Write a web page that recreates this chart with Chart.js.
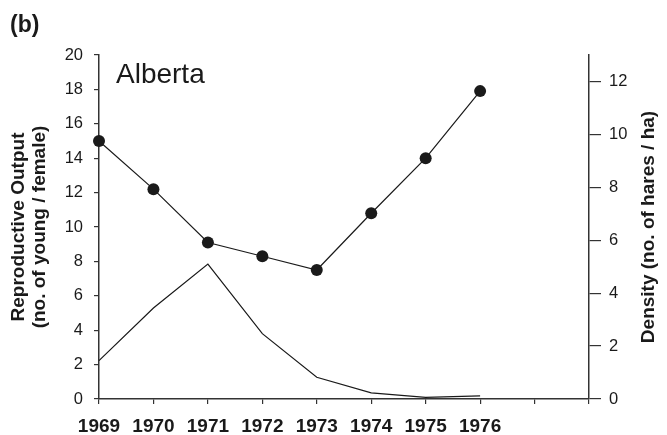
<!DOCTYPE html>
<html>
<head>
<meta charset="utf-8">
<script src="https://cdn.jsdelivr.net/npm/chart.js@4/dist/chart.umd.min.js"></script>
<style>
  html, body { margin: 0; padding: 0; background: #ffffff; }
  #wrap { width: 667px; height: 435px; position: relative; }
</style>
</head>
<body>
<div id="wrap"><canvas id="c" width="667" height="435"></canvas></div>
<script>
// ---- data ----
const years = ['1969', '1970', '1971', '1972', '1973', '1974', '1975', '1976', '', ''];
const reproductiveOutput = [15.0, 12.2, 9.1, 8.3, 7.5, 10.8, 14.0, 17.9, null, null];
const hareDensity = [1.45, 3.44, 5.10, 2.47, 0.82, 0.23, 0.06, 0.12, null, null];
const leftTicks = [0, 2, 4, 6, 8, 10, 12, 14, 16, 18, 20];
const rightTicks = [0, 2, 4, 6, 8, 10, 12];
const panelLabel = '(b)';
const regionLabel = 'Alberta';
const leftTitle = ['Reproductive Output', '(no. of young / female)'];
const rightTitle = 'Density (no. of hares / ha)';

const FONT = "'Liberation Sans', Arial, Helvetica, sans-serif";
const INK = '#1a1a1a';
const AXIS = '#333333';

const textPlugin = {
  id: 'panelText',
  afterDraw(chart) {
    const ctx = chart.ctx;
    const area = chart.chartArea;
    ctx.save();
    ctx.fillStyle = INK;
    ctx.textAlign = 'left';
    ctx.textBaseline = 'alphabetic';
    ctx.font = 'bold 23px ' + FONT;
    ctx.fillText(panelLabel, 10, 32);
    ctx.font = '28px ' + FONT;
    ctx.fillText(regionLabel, area.left + 17, 83);
    // right axis title, reading bottom to top
    ctx.translate(654, (area.top + area.bottom) / 2);
    ctx.rotate(-Math.PI / 2);
    ctx.textAlign = 'center';
    ctx.font = 'bold 19px ' + FONT;
    ctx.fillText(rightTitle, 0, 0);
    ctx.restore();
  }
};

function keepTicks(list) {
  return function (scale) {
    scale.ticks = list.map(v => ({ value: v }));
  };
}

new Chart(document.getElementById('c'), {
  type: 'line',
  data: {
    labels: years,
    datasets: [
      {
        label: 'Reproductive Output',
        data: reproductiveOutput,
        yAxisID: 'y',
        borderColor: INK,
        backgroundColor: INK,
        borderWidth: 1.2,
        pointRadius: 6,
        pointBorderWidth: 0,
        pointBackgroundColor: INK,
        tension: 0,
        spanGaps: false
      },
      {
        label: 'Density',
        data: hareDensity,
        yAxisID: 'y1',
        borderColor: INK,
        borderWidth: 1.2,
        pointRadius: 0,
        tension: 0
      }
    ]
  },
  options: {
    responsive: false,
    animation: false,
    devicePixelRatio: 1,
    layout: { padding: { top: 55, left: 0, right: 0, bottom: 0 } },
    plugins: {
      legend: { display: false },
      tooltip: { enabled: false },
      title: { display: false }
    },
    scales: {
      x: {
        type: 'category',
        offset: false,
        border: { display: true, color: AXIS, width: 1.5 },
        grid: { drawOnChartArea: false, drawTicks: true, tickLength: 5, color: AXIS, lineWidth: 1.2 },
        ticks: {
          autoSkip: false,
          maxRotation: 0,
          color: INK,
          padding: 11,
          font: { family: FONT, size: 19, weight: 'bold' }
        },
        afterFit(scale) { scale.height = 36; }
      },
      y: {
        position: 'left',
        min: 0,
        max: 20,
        afterBuildTicks: keepTicks(leftTicks),
        border: { display: true, color: AXIS, width: 1.5 },
        grid: { drawOnChartArea: false, drawTicks: true, tickLength: 5, color: AXIS, lineWidth: 1.2 },
        ticks: {
          color: INK,
          padding: 11,
          font: { family: FONT, size: 16.5 }
        },
        title: {
          display: true,
          text: leftTitle,
          color: INK,
          padding: { top: 9, bottom: 0 },
          font: { family: FONT, size: 19, weight: 'bold', lineHeight: 1.07 }
        },
        afterFit(scale) { scale.width = 99; }
      },
      y1: {
        position: 'right',
        min: 0,
        max: 13,
        afterBuildTicks: keepTicks(rightTicks),
        border: { display: true, color: AXIS, width: 1.5 },
        grid: { drawOnChartArea: false, drawTicks: true, tickLength: 12, color: AXIS, lineWidth: 1.2 },
        ticks: {
          color: INK,
          padding: 8,
          font: { family: FONT, size: 16.5 }
        },
        afterFit(scale) { scale.width = 78; }
      }
    }
  },
  plugins: [textPlugin]
});
</script>
</body>
</html>
